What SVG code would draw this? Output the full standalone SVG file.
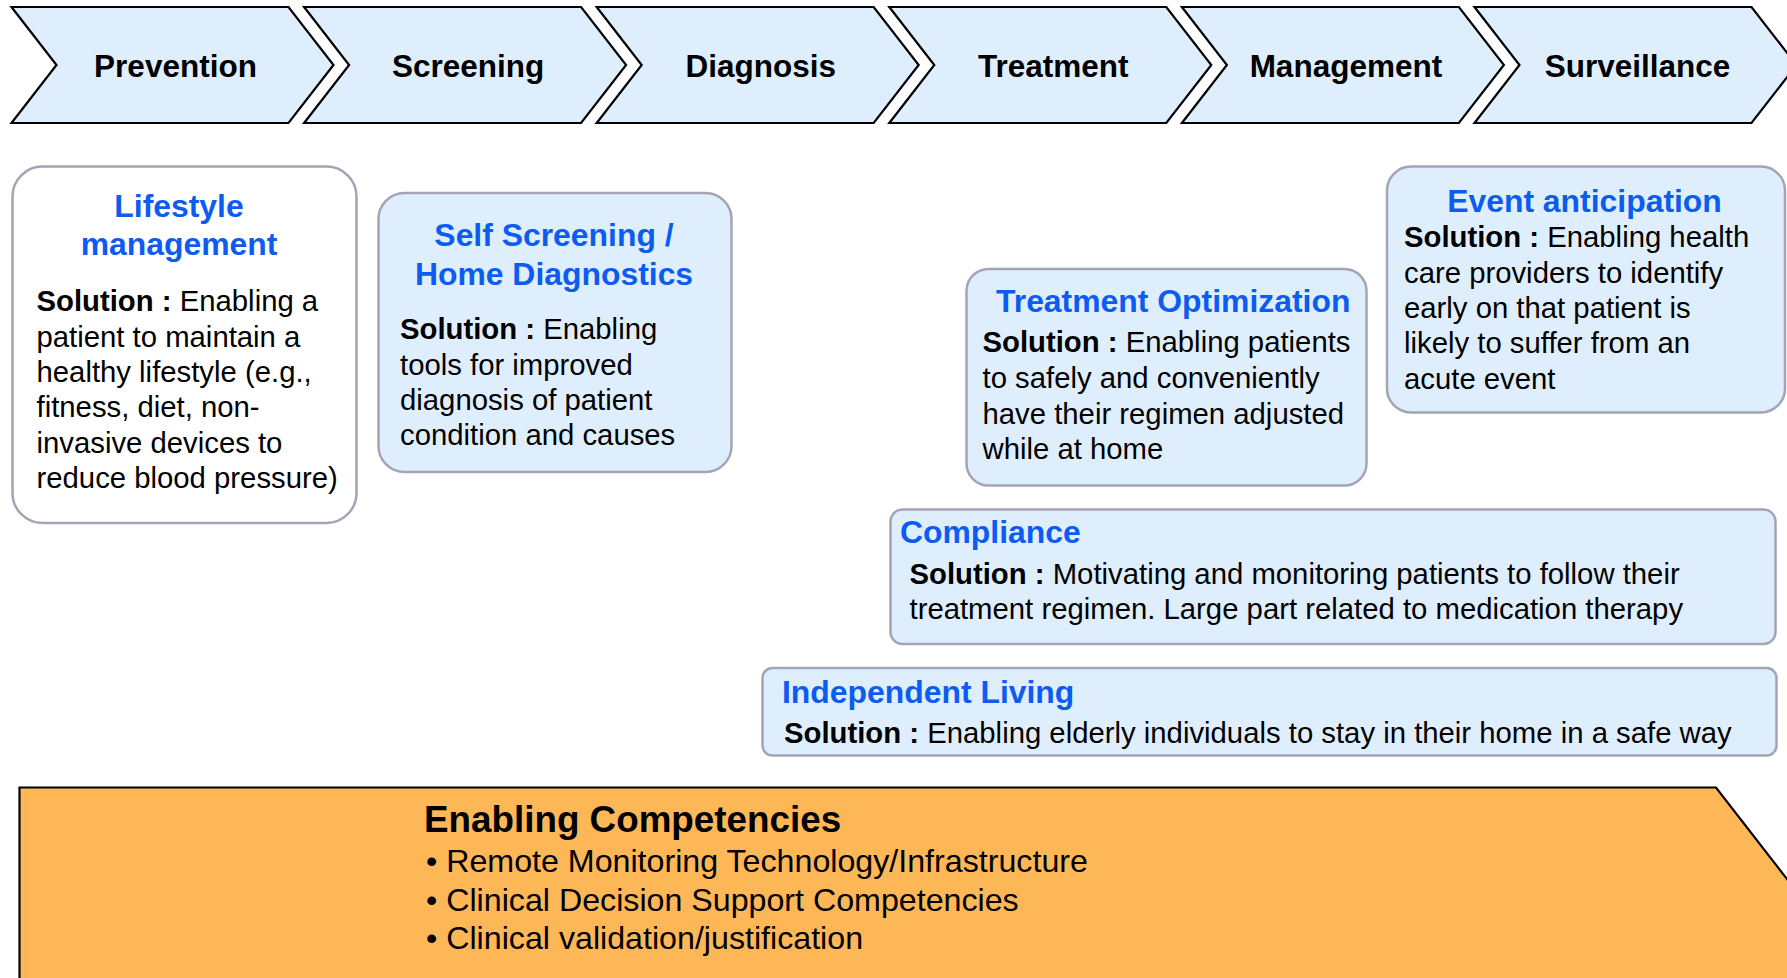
<svg xmlns="http://www.w3.org/2000/svg" width="1787" height="978" viewBox="0 0 1787 978">
  <style>
    .chev { fill: #dfeefd; stroke: #000; stroke-width: 2.2; stroke-linejoin: miter; }
    .chev-label { font-family: "Liberation Sans", Arial, sans-serif; font-weight: bold; font-size: 31.5px; fill: #000; text-anchor: middle; }
    .card { fill: #dfeefd; stroke: #a4a4b6; stroke-width: 2.5; }
    .card-white { fill: #ffffff; stroke: #a4a4b6; stroke-width: 2.5; }
    .title { font-family: "Liberation Sans", Arial, sans-serif; font-weight: bold; font-size: 31.9px; fill: #0c5cf2; }
    .body { font-family: "Liberation Sans", Arial, sans-serif; font-size: 29.3px; fill: #000; }
    .b { font-weight: bold; }
    .base { fill: #fdb757; stroke: #000; stroke-width: 2.2; }
    .base-head { font-family: "Liberation Sans", Arial, sans-serif; font-weight: bold; font-size: 36.8px; fill: #000; }
    .base-item { font-family: "Liberation Sans", Arial, sans-serif; font-size: 32.2px; fill: #000; }
  </style>

  <!-- care pathway stages -->
  <g id="stage-prevention">
    <polygon class="chev" points="11.5,7 288.5,7 333.5,65 288.5,123 11.5,123 56.5,65"/>
    <text class="chev-label" x="175.5" y="77">Prevention</text>
  </g>
  <g id="stage-screening">
    <polygon class="chev" points="304.1,7 581.1,7 626.1,65 581.1,123 304.1,123 349.1,65"/>
    <text class="chev-label" x="468.1" y="77">Screening</text>
  </g>
  <g id="stage-diagnosis">
    <polygon class="chev" points="596.7,7 873.7,7 918.7,65 873.7,123 596.7,123 641.7,65"/>
    <text class="chev-label" x="760.7" y="77">Diagnosis</text>
  </g>
  <g id="stage-treatment">
    <polygon class="chev" points="889.3,7 1166.3,7 1211.3,65 1166.3,123 889.3,123 934.3,65"/>
    <text class="chev-label" x="1053.3" y="77">Treatment</text>
  </g>
  <g id="stage-management">
    <polygon class="chev" points="1181.9,7 1458.9,7 1503.9,65 1458.9,123 1181.9,123 1226.9,65"/>
    <text class="chev-label" x="1345.9" y="77">Management</text>
  </g>
  <g id="stage-surveillance">
    <polygon class="chev" points="1474.5,7 1751.5,7 1796.5,65 1751.5,123 1474.5,123 1519.5,65"/>
    <text class="chev-label" x="1637.5" y="77">Surveillance</text>
  </g>

  <!-- solution cards -->
  <g id="card-lifestyle">
    <rect class="card-white" x="12.5" y="166.5" width="344" height="356.5" rx="30"/>
    <text class="title" x="179" y="216.5" text-anchor="middle">Lifestyle</text>
    <text class="title" x="179" y="255" text-anchor="middle">management</text>
    <text class="body" x="36.5" y="311"><tspan class="b">Solution : </tspan>Enabling a</text>
    <text class="body" x="36.5" y="346.5">patient to maintain a</text>
    <text class="body" x="36.5" y="382">healthy lifestyle (e.g.,</text>
    <text class="body" x="36.5" y="417">fitness, diet, non-</text>
    <text class="body" x="36.5" y="452.5">invasive devices to</text>
    <text class="body" x="36.5" y="488">reduce blood pressure)</text>
  </g>

  <g id="card-self-screening">
    <rect class="card" x="378.5" y="193" width="353" height="279" rx="26"/>
    <text class="title" x="554" y="246" text-anchor="middle">Self Screening /</text>
    <text class="title" x="554" y="285" text-anchor="middle">Home Diagnostics</text>
    <text class="body" x="400" y="339"><tspan class="b">Solution : </tspan>Enabling</text>
    <text class="body" x="400" y="374.5">tools for improved</text>
    <text class="body" x="400" y="410">diagnosis of patient</text>
    <text class="body" x="400" y="445">condition and causes</text>
  </g>

  <g id="card-treatment-optimization">
    <rect class="card" x="966.5" y="269" width="400" height="216.5" rx="22"/>
    <text class="title" x="996" y="312">Treatment Optimization</text>
    <text class="body" x="982.5" y="352"><tspan class="b">Solution : </tspan>Enabling patients</text>
    <text class="body" x="982.5" y="387.5">to safely and conveniently</text>
    <text class="body" x="982.5" y="423.5">have their regimen adjusted</text>
    <text class="body" x="982.5" y="459">while at home</text>
  </g>

  <g id="card-event-anticipation">
    <rect class="card" x="1387" y="166.5" width="398" height="246" rx="24"/>
    <text class="title" x="1584.5" y="212" text-anchor="middle">Event anticipation</text>
    <text class="body" x="1404" y="247"><tspan class="b">Solution : </tspan>Enabling health</text>
    <text class="body" x="1404" y="282.5">care providers to identify</text>
    <text class="body" x="1404" y="318">early on that patient is</text>
    <text class="body" x="1404" y="353">likely to suffer from an</text>
    <text class="body" x="1404" y="388.5">acute event</text>
  </g>

  <g id="card-compliance">
    <rect class="card" x="890.5" y="509.5" width="885" height="134.5" rx="12"/>
    <text class="title" x="900" y="542.5">Compliance</text>
    <text class="body" x="909.5" y="583.5"><tspan class="b">Solution : </tspan>Motivating and monitoring patients to follow their</text>
    <text class="body" x="909.5" y="619">treatment regimen. Large part related to medication therapy</text>
  </g>

  <g id="card-independent-living">
    <rect class="card" x="762.5" y="668" width="1014" height="87.5" rx="10"/>
    <text class="title" x="782" y="703">Independent Living</text>
    <text class="body" x="784" y="743"><tspan class="b">Solution : </tspan>Enabling elderly individuals to stay in their home in a safe way</text>
  </g>

  <!-- enabling competencies base arrow -->
  <g id="enabling-competencies">
    <polygon class="base" points="19.5,787.5 1716,787.5 1842,950 1716,1110 19.5,1110"/>
    <text class="base-head" x="424" y="832">Enabling Competencies</text>
    <text class="base-item" x="426" y="872">• Remote Monitoring Technology/Infrastructure</text>
    <text class="base-item" x="426" y="910.5">• Clinical Decision Support Competencies</text>
    <text class="base-item" x="426" y="949">• Clinical validation/justification</text>
  </g>

  <g id="connectors"></g>
</svg>
